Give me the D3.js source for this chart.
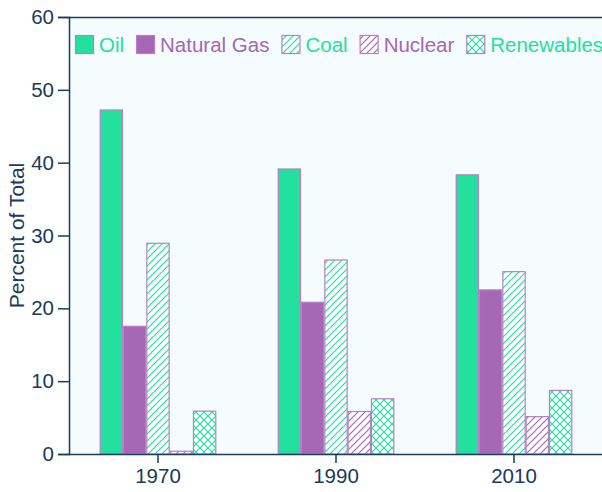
<!DOCTYPE html>
<html><head><meta charset="utf-8">
<script src="https://cdn.jsdelivr.net/npm/d3@7"></script>
<style>
body{margin:0;background:#fff;}
text{font-family:"Liberation Sans",Arial,sans-serif;}
</style></head>
<body><svg id="c" width="602" height="492"></svg>
<script>
const years = ["1970","1990","2010"];
const series = ["Oil","Natural Gas","Coal","Nuclear","Renewables"];
const oil = [47.3, 39.2, 38.4];
const naturalGas = [17.6, 20.9, 22.6];
const coal = [29.0, 26.7, 25.1];
const nuclear = [0.45, 5.9, 5.2];
const renewables = [5.95, 7.65, 8.8];
const yTicks = [0,10,20,30,40,50,60];

const values = [oil, naturalGas, coal, nuclear, renewables];
const GREEN = "#23e09f", PURPLE = "#a667b4", STROKE = "#b680c6", NAVY = "#1b3a5c";
const fills = ["solid-g","solid-p","hatch-g","hatch-p","cross-g"];
const textColors = [GREEN, PURPLE, GREEN, PURPLE, GREEN];

const svg = d3.select("#c");
const defs = svg.append("defs");
function hatch(id, color){
  const p = defs.append("pattern").attr("id",id).attr("patternUnits","userSpaceOnUse")
    .attr("width",7).attr("height",7);
  p.append("rect").attr("width",7).attr("height",7).attr("fill","#ffffff");
  p.append("path").attr("d","M-1,1 L1,-1 M0,7 L7,0 M6,8 L8,6").attr("stroke",color).attr("stroke-width",1.2);
}
hatch("hatch-g", GREEN); hatch("hatch-p", PURPLE);
(function(){
  const p = defs.append("pattern").attr("id","cross-g").attr("patternUnits","userSpaceOnUse")
    .attr("width",8).attr("height",8);
  p.append("rect").attr("width",8).attr("height",8).attr("fill","#ffffff");
  p.append("path").attr("d","M0,0 L8,8 M0,8 L8,0").attr("stroke",GREEN).attr("stroke-width",1.2);
})();
function fillOf(i){ return fills[i]==="solid-g"?GREEN:fills[i]==="solid-p"?PURPLE:`url(#${fills[i]})`; }

const m = {l:69, r:603, t:17, b:454};
const y = d3.scaleLinear().domain([0,60]).range([m.b, m.t]);
const x0 = d3.scaleBand().domain(years).range([m.l, m.r]).paddingInner(0.345).paddingOuter(0.1725);
const x1 = d3.scaleBand().domain(series).range([0, x0.bandwidth()]);

svg.append("rect").attr("x",m.l).attr("y",m.t).attr("width",m.r-m.l).attr("height",m.b-m.t).attr("fill","#f5fcfd");

const g = svg.append("g");
years.forEach((yr, yi) => {
  series.forEach((s, si) => {
    const v = values[si][yi];
    g.append("rect")
      .attr("x", x0(yr) + x1(s) + 0.5)
      .attr("y", y(v) + 0.5)
      .attr("width", x1.bandwidth() - 1)
      .attr("height", Math.max(0, y(0) - y(v) - 0.5))
      .attr("fill", fillOf(si))
      .attr("stroke", STROKE).attr("stroke-width", 1.2);
  });
});

// top border
svg.append("line").attr("x1",m.l).attr("x2",602).attr("y1",m.t+0.5).attr("y2",m.t+0.5).attr("stroke",NAVY).attr("stroke-width",1.5);

const yAxis = svg.append("g").attr("transform",`translate(${m.l},0)`)
  .call(d3.axisLeft(y).tickValues(yTicks).tickSize(11).tickPadding(4));
const xAxis = svg.append("g").attr("transform",`translate(0,${m.b})`)
  .call(d3.axisBottom(x0).tickSize(9).tickPadding(5).tickSizeOuter(0));
[yAxis, xAxis].forEach(a => {
  a.selectAll("path,line").attr("stroke",NAVY).attr("stroke-width",1.5);
  a.selectAll("text").attr("fill",NAVY).style("font-size","20.5px");
});
xAxis.select(".domain").attr("d",`M${m.l},0.5H602`);

svg.append("text").attr("transform",`translate(24,${(m.t+m.b)/2}) rotate(-90)`)
  .attr("text-anchor","middle").attr("fill",NAVY).style("font-size","21px").text("Percent of Total");

// legend
const lg = svg.append("g");
let lx = 75;
series.forEach((s, si) => {
  lg.append("rect").attr("x",lx+0.5).attr("y",35.5).attr("width",18).attr("height",18)
    .attr("fill",fillOf(si)).attr("stroke",STROKE).attr("stroke-width",1.2);
  const t = lg.append("text").attr("x",lx+24).attr("y",44.5).attr("dy","0.35em")
    .attr("fill",textColors[si]).style("font-size","20.5px").text(s);
  lx = lx + 24 + t.node().getComputedTextLength() + 12;
});
</script></body></html>
